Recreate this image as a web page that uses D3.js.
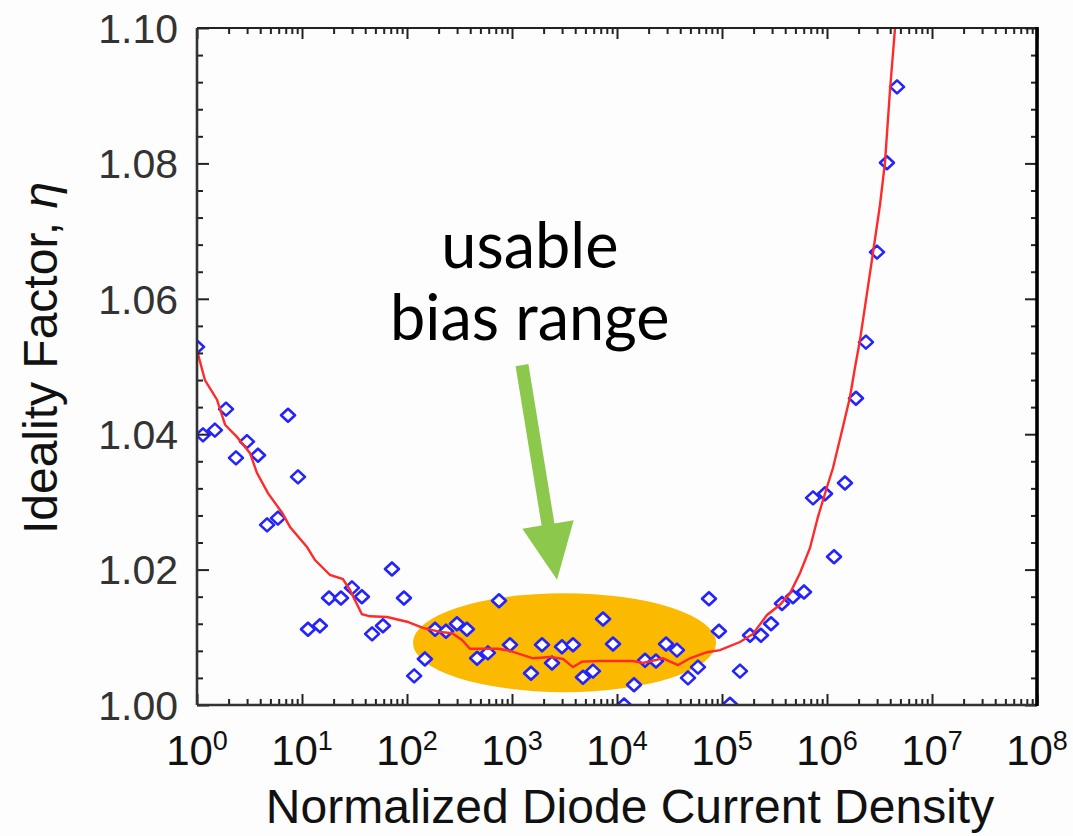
<!DOCTYPE html>
<html>
<head>
<meta charset="utf-8">
<script src="https://cdn.jsdelivr.net/npm/d3@7"></script>
<style>
  html, body { margin: 0; padding: 0; background: #fdfdfd; }
  svg { display: block; }
</style>
</head>
<body>
<svg id="chart" width="1073" height="836"></svg>
<script>
// ---------- data ----------
const pointJ = [1.00, 1.14, 1.48, 1.89, 2.35, 2.99, 3.81, 4.65, 5.90, 7.36, 9.16,
  11.4, 14.8, 18.1, 23.5, 29.9, 37.2, 46.5, 59.0, 71.9, 93.5,
  117, 148, 185, 235, 299, 372, 465, 590, 752, 957,
  1517, 1932, 2404, 2992, 3811, 4742, 5902, 7362, 9162,
  11670, 14520, 18490, 23500, 29310, 37240, 47420, 59020, 75160, 93540,
  119100, 148300, 184900, 234900, 293100, 372400, 474200, 603900, 736200, 957200,
  1167000, 1483000, 1888000, 2350000, 2992000, 3724000, 4645000];
const pointEta = [1.0529, 1.0399, 1.0406, 1.0437, 1.0365, 1.0389, 1.0369, 1.0266, 1.0276, 1.0428, 1.0337,
  1.0112, 1.0117, 1.0158, 1.0158, 1.0173, 1.0160, 1.0105, 1.0117, 1.0201, 1.0158,
  1.0043, 1.0068, 1.0112, 1.0109, 1.0120, 1.0112, 1.0069, 1.0077, 1.0154, 1.0089,
  1.0047, 1.0089, 1.0062, 1.0086, 1.0089, 1.0041, 1.0050, 1.0127, 1.0090,
  1.0000, 1.0030, 1.0066, 1.0065, 1.0090, 1.0081, 1.0040, 1.0056, 1.0157, 1.0109,
  1.0001, 1.0050, 1.0103, 1.0103, 1.0120, 1.0150, 1.0160, 1.0167, 1.0306, 1.0312,
  1.0219, 1.0328, 1.0453, 1.0536, 1.0669, 1.0801, 1.0913];

const fitJ = [1.00, 1.19, 1.55, 1.85, 2.40, 3.20, 3.72, 4.74, 6.46, 7.69,
  11.2, 13.3, 18.5, 24.5, 28.6, 37.2, 44.5, 64.6, 100,
  142, 206, 269, 334, 398, 736, 957,
  1585, 2301, 3062, 3811, 4645, 6887,
  14190, 17700, 27420, 38110, 49550, 71940, 95720,
  148300, 197200, 268500, 356500, 444600, 553400, 688700, 820400,
  1000000, 1140000, 1419000, 1656000, 1849000, 2061000, 2350000, 2742000, 3199000, 3565000, 3981000, 4446000];
const fitEta = [1.0524, 1.0480, 1.0451, 1.0414, 1.0396, 1.0372, 1.0343, 1.0313, 1.0284, 1.0263,
  1.0233, 1.0214, 1.0192, 1.0186, 1.0170, 1.0134, 1.0131, 1.0130, 1.0123,
  1.0114, 1.0108, 1.0106, 1.0096, 1.0083, 1.0083, 1.0080,
  1.0069, 1.0071, 1.0068, 1.0056, 1.0064, 1.0065,
  1.0065, 1.0062, 1.0069, 1.0059, 1.0069, 1.0078, 1.0081,
  1.0093, 1.0105, 1.0133, 1.0148, 1.0165, 1.0195, 1.0232, 1.0278,
  1.0322, 1.0350, 1.0411, 1.0455, 1.0499, 1.0539, 1.0598, 1.0668, 1.0739, 1.0801, 1.0908, 1.1000];

const xDecades = [1, 10, 100, 1e3, 1e4, 1e5, 1e6, 1e7, 1e8];
const xExponents = ["0", "1", "2", "3", "4", "5", "6", "7", "8"];
const yTickValues = [1.00, 1.02, 1.04, 1.06, 1.08, 1.10];

const xTitle = "Normalized Diode Current Density";
const yTitle = "Ideality Factor, ";
const yTitleSymbol = "η";
const noteLines = ["usable", "bias range"];

// annotation anchors in data space
const bandX = [114, 87700];          // ellipse left/right
const bandY = [1.0019, 1.0165];      // ellipse bottom/top
const arrowFrom = [1245, 1.0502];
const arrowTo = [2685, 1.0185];
const noteX = 1480;
const noteBaselines = [1.0645, 1.0539];

// ---------- layout ----------
const W = 1073, H = 836;
const m = {left: 197, top: 28, right: 36, bottom: 131};
const iw = W - m.left - m.right, ih = H - m.top - m.bottom;

const svg = d3.select("#chart");
const sans = "'Liberation Sans', Arial, Helvetica, sans-serif";

const x = d3.scaleLog().domain([1, 1e8]).range([0, iw]);
const y = d3.scaleLinear().domain([1.0, 1.1]).range([ih, 0]);

const g = svg.append("g").attr("transform", `translate(${m.left},${m.top})`);

svg.append("defs").append("clipPath").attr("id", "clip")
  .append("rect").attr("x", 0).attr("y", 0).attr("width", iw).attr("height", ih);

// ---------- annotation band ----------
const cx = (x(bandX[0]) + x(bandX[1])) / 2, cy = (y(bandY[0]) + y(bandY[1])) / 2;
g.append("ellipse")
  .attr("cx", cx).attr("cy", cy)
  .attr("rx", (x(bandX[1]) - x(bandX[0])) / 2)
  .attr("ry", (y(bandY[0]) - y(bandY[1])) / 2)
  .attr("fill", "#fbb900");

// ---------- arrow ----------
{
  const x0 = x(arrowFrom[0]), y0 = y(arrowFrom[1]);
  const x1 = x(arrowTo[0]), y1 = y(arrowTo[1]);
  const dx = x1 - x0, dy = y1 - y0, L = Math.hypot(dx, dy);
  const ux = dx / L, uy = dy / L, px = -uy, py = ux;
  const headLen = 56, headHalf = 26, shaftHalf = 6.5;
  const bx = x1 - ux * headLen, by = y1 - uy * headLen;
  const pts = [
    [x0 + px * shaftHalf, y0 + py * shaftHalf],
    [bx + px * shaftHalf, by + py * shaftHalf],
    [bx + px * headHalf, by + py * headHalf],
    [x1, y1],
    [bx - px * headHalf, by - py * headHalf],
    [bx - px * shaftHalf, by - py * shaftHalf],
    [x0 - px * shaftHalf, y0 - py * shaftHalf]
  ];
  g.append("path").attr("d", "M" + pts.map(p => p.join(",")).join("L") + "Z")
    .attr("fill", "#8cc84b");
}

// ---------- note text ----------
g.selectAll("text.note").data(noteLines).join("text")
  .attr("class", "note")
  .attr("x", x(noteX))
  .attr("y", (d, i) => y(noteBaselines[i]))
  .attr("text-anchor", "middle")
  .attr("font-family", "Lato, 'Open Sans', sans-serif")
  .attr("font-size", 63)
  .attr("fill", "#000")
  .text(d => d);

// ---------- data ----------
const plot = g.append("g").attr("clip-path", "url(#clip)");
const pts = pointJ.map((j, i) => ({j, eta: pointEta[i]}));
plot.selectAll("path.pt").data(pts).join("path")
  .attr("class", "pt")
  .attr("transform", d => `translate(${x(d.j)},${y(d.eta)})`)
  .attr("d", "M0,-6.5L7,0L0,6.5L-7,0Z")
  .attr("fill", "#ffffff")
  .attr("stroke", "#2323ff")
  .attr("stroke-width", 2.6)
  .attr("stroke-linejoin", "round");

const fit = fitJ.map((j, i) => ({j, eta: fitEta[i]}));
plot.append("path").datum(fit)
  .attr("d", d3.line().x(d => x(d.j)).y(d => y(d.eta)))
  .attr("fill", "none")
  .attr("stroke", "#ff2b2b")
  .attr("stroke-width", 2.4);

// ---------- axes / ticks ----------
const minorX = x.ticks().filter(v => !xDecades.includes(v));
const minorY = d3.range(1.0, 1.1001, 0.004).filter(v => yTickValues.every(t => Math.abs(t - v) > 1e-6));

function tickGroup(axis, tx, ty) {
  const a = g.append("g").attr("transform", `translate(${tx},${ty})`).call(axis);
  a.select(".domain").remove();
  a.selectAll(".tick line").attr("stroke", "#222").attr("stroke-width", 2);
  a.selectAll(".tick text").remove();
  return a;
}
// bottom & top
tickGroup(d3.axisBottom(x).tickValues(xDecades).tickSize(-11), 0, ih);
tickGroup(d3.axisBottom(x).tickValues(minorX).tickSize(-6), 0, ih);
tickGroup(d3.axisTop(x).tickValues(xDecades).tickSize(-11), 0, 0);
tickGroup(d3.axisTop(x).tickValues(minorX).tickSize(-6), 0, 0);
// left & right
tickGroup(d3.axisLeft(y).tickValues(yTickValues).tickSize(-12), 0, 0);
tickGroup(d3.axisLeft(y).tickValues(minorY).tickSize(-6), 0, 0);
tickGroup(d3.axisRight(y).tickValues(yTickValues).tickSize(-12), iw, 0);
tickGroup(d3.axisRight(y).tickValues(minorY).tickSize(-6), iw, 0);

// frame
g.append("line").attr("x1", 0).attr("x2", iw).attr("y1", 0).attr("y2", 0).attr("stroke", "#222").attr("stroke-width", 2.2);
g.append("line").attr("x1", 0).attr("x2", iw).attr("y1", ih).attr("y2", ih).attr("stroke", "#333").attr("stroke-width", 2.6);
g.append("line").attr("x1", 0).attr("x2", 0).attr("y1", 0).attr("y2", ih).attr("stroke", "#333").attr("stroke-width", 2.6);
g.append("line").attr("x1", iw).attr("x2", iw).attr("y1", -1).attr("y2", ih + 1).attr("stroke", "#000").attr("stroke-width", 3.6);

// y tick labels
g.selectAll("text.ylab").data(yTickValues).join("text")
  .attr("class", "ylab")
  .attr("x", -19)
  .attr("y", d => y(d))
  .attr("dy", "0.36em")
  .attr("text-anchor", "end")
  .attr("font-family", sans)
  .attr("font-size", 41)
  .attr("fill", "#333")
  .text(d3.format(".2f"));

// x tick labels 10^n
const xl = g.selectAll("text.xlab").data(xDecades).join("text")
  .attr("class", "xlab")
  .attr("x", d => x(d))
  .attr("y", ih + 60)
  .attr("text-anchor", "middle")
  .attr("font-family", sans)
  .attr("font-size", 42)
  .attr("fill", "#111");
xl.append("tspan").text("10");
xl.append("tspan").attr("dy", -15).attr("font-size", 27).text((d, i) => xExponents[i]);

// axis titles
svg.append("text")
  .attr("x", 630).attr("y", 823)
  .attr("text-anchor", "middle")
  .attr("font-family", sans)
  .attr("font-size", 48)
  .attr("fill", "#111")
  .text(xTitle);

const yt = svg.append("text")
  .attr("transform", "translate(57,358) rotate(-90)")
  .attr("text-anchor", "middle")
  .attr("font-family", sans)
  .attr("font-size", 48)
  .attr("fill", "#111");
yt.append("tspan").text(yTitle);
yt.append("tspan").attr("font-style", "italic").text(yTitleSymbol);
</script>
</body>
</html>
